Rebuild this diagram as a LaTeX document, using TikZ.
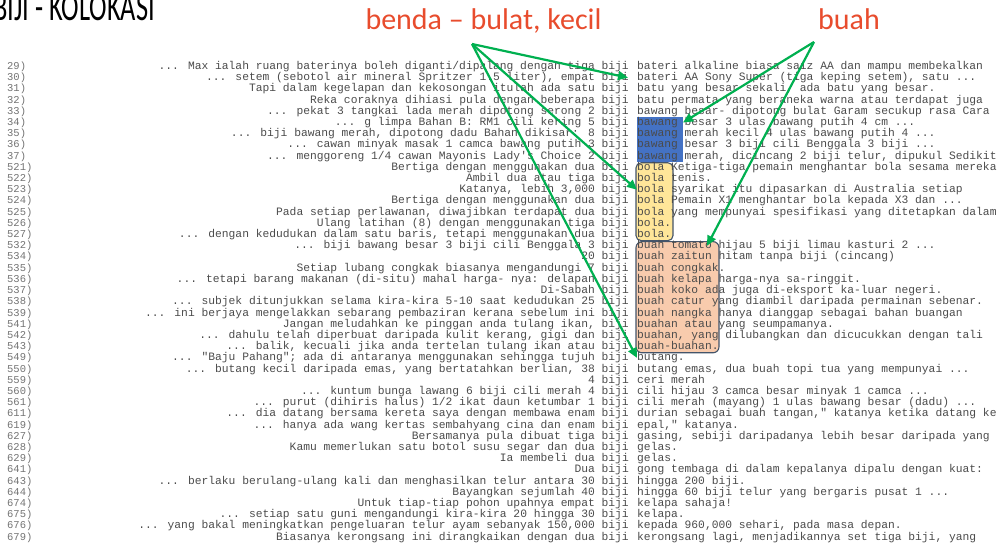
\documentclass[tikz,border=0pt]{standalone}
\usepackage{fontspec}
\setmainfont{Carlito}
\newfontfamily\concfont{Liberation Mono}
\usetikzlibrary{arrows.meta}

\definecolor{lblred}{RGB}{232,76,45}
\definecolor{arrowgreen}{RGB}{0,176,80}
\definecolor{hlblue}{RGB}{68,114,196}
\definecolor{hlyellow}{RGB}{255,230,153}
\definecolor{hlorange}{RGB}{248,203,173}
\definecolor{hledge}{RGB}{68,84,106}
\definecolor{conctext}{RGB}{75,75,75}

\tikzset{
  lnum/.style={anchor=mid west, inner sep=0pt, text=black!55,
    font=\concfont\fontsize{10.5}{10.5}\selectfont},
  lctx/.style={anchor=mid east, inner sep=0pt, text=conctext,
    font=\concfont\fontsize{11.3}{11.3}\selectfont},
  rctx/.style={anchor=mid west, inner sep=0pt, text=conctext,
    font=\concfont\fontsize{11.3}{11.3}\selectfont},
  collolbl/.style={anchor=base, inner sep=0pt, text=lblred,
    font=\fontsize{30}{30}\selectfont},
  pointer/.style={draw=arrowgreen, line width=2.2pt,
    -{Triangle[length=10pt,width=9pt]}},
}

% one concordance line: row, line number, left context, right context
\newcommand{\concrow}[4]{%
  \node[lnum] (n#2) at (7,{67+#1*11.21}) {#2)};
  \node[lctx] (l#2) at (629,{67+#1*11.21}) {#3};
  \node[rctx] (r#2) at (637,{67+#1*11.21}) {#4};}

\begin{document}
\begin{tikzpicture}[x=1pt,y=-1pt]
  \useasboundingbox (0,0) rectangle (1007,545);

  %title
  \node[anchor=base west, inner sep=0pt, font=\fontsize{40}{40}\selectfont] (title) at (-7,21)
    {\scalebox{0.66}[1]{BIJI - KOLOKASI}};

  %labels
  \node[collolbl] (benda) at (483.5,30) {benda -- bulat, kecil};
  \node[collolbl] (buah) at (849,30) {buah};
  \coordinate (bendafoot) at (472,44);
  \coordinate (buahfoot) at (814,42);

  %highlights
  \fill[hlblue] (637,117.5) rectangle (683,162.3);
  \draw[hledge, fill=hlyellow, line width=1.1pt, rounded corners=5pt] (636,162.8) rectangle (673,240.6);
  \draw[hledge, fill=hlorange, line width=1.1pt, rounded corners=6pt] (636,241.6) rectangle (719,352.8);

  %concordance
  \concrow{0}{29}{... Max ialah ruang baterinya boleh diganti/dipalang dengan tiga biji}{bateri alkaline biasa saiz AA dan mampu membekalkan}
  \concrow{1}{30}{... setem (sebotol air mineral Spritzer 1.5 liter), empat biji}{bateri AA Sony Super (tiga keping setem), satu ...}
  \concrow{2}{31}{Tapi dalam kegelapan dan kekosongan itulah ada satu biji}{batu yang besar sekali, ada batu yang besar.}
  \concrow{3}{32}{Reka coraknya dihiasi pula dengan beberapa biji}{batu permata yang beraneka warna atau terdapat juga}
  \concrow{4}{33}{... pekat 3 tangkai lada merah dipotong serong 2 biji}{bawang besar- dipotong bulat Garam secukup rasa Cara}
  \concrow{5}{34}{... g limpa Bahan B: RM1 cili kering 5 biji}{bawang besar 3 ulas bawang putih 4 cm ...}
  \concrow{6}{35}{... biji bawang merah, dipotong dadu Bahan dikisar: 8 biji}{bawang merah kecil 4 ulas bawang putih 4 ...}
  \concrow{7}{36}{... cawan minyak masak 1 camca bawang putih 3 biji}{bawang besar 3 biji cili Benggala 3 biji ...}
  \concrow{8}{37}{... menggoreng 1/4 cawan Mayonis Lady's Choice 2 biji}{bawang merah, dicincang 2 biji telur, dipukul Sedikit}
  \concrow{9}{521}{Bertiga dengan menggunakan dua biji}{bola Ketiga-tiga pemain menghantar bola sesama mereka}
  \concrow{10}{522}{Ambil dua atau tiga biji}{bola tenis.}
  \concrow{11}{523}{Katanya, lebih 3,000 biji}{bola syarikat itu dipasarkan di Australia setiap}
  \concrow{12}{524}{Bertiga dengan menggunakan dua biji}{bola Pemain X1 menghantar bola kepada X3 dan ...}
  \concrow{13}{525}{Pada setiap perlawanan, diwajibkan terdapat dua biji}{bola yang mempunyai spesifikasi yang ditetapkan dalam}
  \concrow{14}{526}{Ulang latihan (8) dengan menggunakan tiga biji}{bola.}
  \concrow{15}{527}{... dengan kedudukan dalam satu baris, tetapi menggunakan dua biji}{bola.}
  \concrow{16}{532}{... biji bawang besar 3 biji cili Benggala 3 biji}{buah tomato hijau 5 biji limau kasturi 2 ...}
  \concrow{17}{534}{20 biji}{buah zaitun hitam tanpa biji (cincang)}
  \concrow{18}{535}{Setiap lubang congkak biasanya mengandungi 7 biji}{buah congkak.}
  \concrow{19}{536}{... tetapi barang makanan (di-situ) mahal harga- nya: delapan biji}{buah kelapa harga-nya sa-ringgit.}
  \concrow{20}{537}{Di-Sabah biji}{buah koko ada juga di-eksport ka-luar negeri.}
  \concrow{21}{538}{... subjek ditunjukkan selama kira-kira 5-10 saat kedudukan 25 biji}{buah catur yang diambil daripada permainan sebenar.}
  \concrow{22}{539}{... ini berjaya mengelakkan sebarang pembaziran kerana sebelum ini biji}{buah nangka hanya dianggap sebagai bahan buangan}
  \concrow{23}{541}{Jangan meludahkan ke pinggan anda tulang ikan, biji}{buahan atau yang seumpamanya.}
  \concrow{24}{542}{... dahulu telah diperbuat daripada kulit kerang, gigi dan biji}{buahan, yang dilubangkan dan dicucukkan dengan tali}
  \concrow{25}{543}{... balik, kecuali jika anda tertelan tulang ikan atau biji}{buah-buahan.}
  \concrow{26}{549}{... "Baju Pahang"; ada di antaranya menggunakan sehingga tujuh biji}{butang.}
  \concrow{27}{550}{... butang kecil daripada emas, yang bertatahkan berlian, 38 biji}{butang emas, dua buah topi tua yang mempunyai ...}
  \concrow{28}{559}{4 biji}{ceri merah}
  \concrow{29}{560}{... kuntum bunga lawang 6 biji cili merah 4 biji}{cili hijau 3 camca besar minyak 1 camca ...}
  \concrow{30}{561}{... purut (dihiris halus) 1/2 ikat daun ketumbar 1 biji}{cili merah (mayang) 1 ulas bawang besar (dadu) ...}
  \concrow{31}{611}{... dia datang bersama kereta saya dengan membawa enam biji}{durian sebagai buah tangan," katanya ketika datang ke}
  \concrow{32}{619}{... hanya ada wang kertas sembahyang cina dan enam biji}{epal," katanya.}
  \concrow{33}{627}{Bersamanya pula dibuat tiga biji}{gasing, sebiji daripadanya lebih besar daripada yang}
  \concrow{34}{628}{Kamu memerlukan satu botol susu segar dan dua biji}{gelas.}
  \concrow{35}{629}{Ia membeli dua biji}{gelas.}
  \concrow{36}{641}{Dua biji}{gong tembaga di dalam kepalanya dipalu dengan kuat:}
  \concrow{37}{643}{... berlaku berulang-ulang kali dan menghasilkan telur antara 30 biji}{hingga 200 biji.}
  \concrow{38}{644}{Bayangkan sejumlah 40 biji}{hingga 60 biji telur yang bergaris pusat 1 ...}
  \concrow{39}{674}{Untuk tiap-tiap pohon upahnya empat biji}{kelapa sahaja!}
  \concrow{40}{675}{... setiap satu guni mengandungi kira-kira 20 hingga 30 biji}{kelapa.}
  \concrow{41}{676}{... yang bakal meningkatkan pengeluaran telur ayam sebanyak 150,000 biji}{kepada 960,000 sehari, pada masa depan.}
  \concrow{42}{679}{Biasanya kerongsang ini dirangkaikan dengan dua biji}{kerongsang lagi, menjadikannya set tiga biji, yang}

  %arrows
  \draw[pointer] (bendafoot) -- ([xshift=-9pt]r30.west);
  \draw[pointer] (bendafoot) -- (r523.west);
  \draw[pointer] (bendafoot) -- (r549.west);
  \draw[pointer] (buahfoot) -- ([xshift=46pt]r34.west);
  \draw[pointer] (buahfoot) -- ([xshift=70pt]r532.west);
\end{tikzpicture}
\end{document}
